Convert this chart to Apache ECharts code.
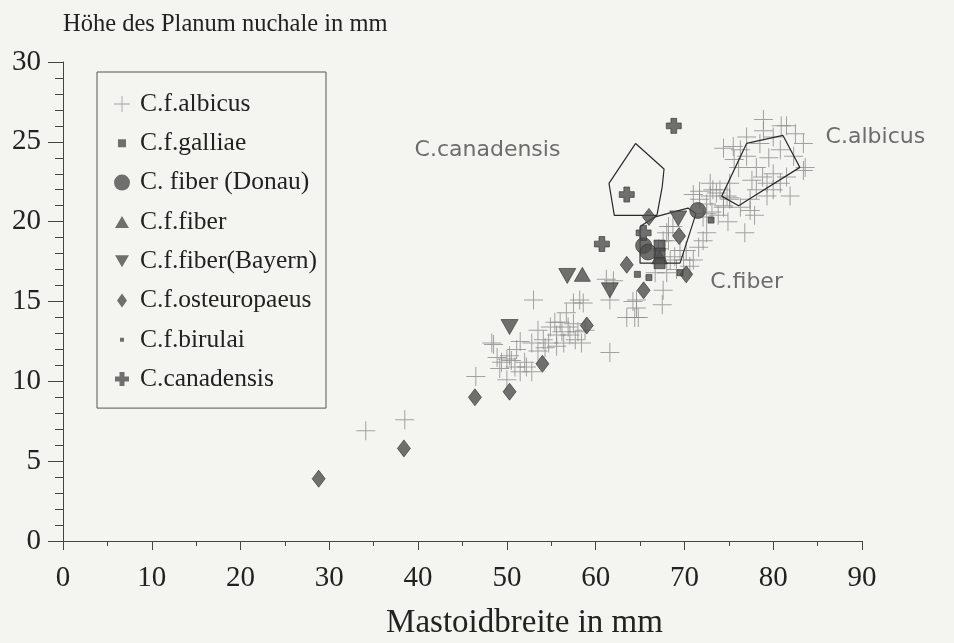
<!DOCTYPE html>
<html>
<head>
<meta charset="utf-8">
<script src="https://cdn.jsdelivr.net/npm/echarts@6/dist/echarts.min.js"></script>
<style>
  html, body { margin: 0; padding: 0; background: #f4f4f1; }
  #main { width: 954px; height: 643px; }
</style>
</head>
<body>
<div id="main"></div>
<script>
// Mastoidbreite (x) / Höhe des Planum nuchale (y), mm
var albicus = [
  [34.1, 6.9], [38.5, 7.6],
  [46.5, 10.3], [48.5, 12.3], [48.9, 11.5], [49.4, 11.2], [50.0, 10.1], [50.5, 11.3], [51.1, 12.0],
  [51.5, 10.6], [52.0, 11.2], [51.5, 12.5], [52.8, 12.4], [53.5, 13.2], [54.1, 12.6], [54.9, 13.4],
  [54.7, 12.4], [55.4, 13.7], [55.6, 12.9], [56.2, 13.1], [56.4, 12.4], [56.7, 14.3], [56.9, 13.4],
  [57.5, 14.9], [57.7, 12.6], [58.2, 15.1], [58.4, 12.4], [58.8, 13.2], [53.0, 15.1],
  [48.3, 12.4], [50.3, 11.6], [49.2, 10.8], [50.9, 10.9], [50.0, 11.4], [52.2, 10.9], [52.8, 10.6],
  [53.5, 11.9], [54.3, 12.1], [55.6, 12.2], [57.1, 12.9], [56.0, 13.7], [57.5, 13.6], [58.0, 13.1],
  [58.6, 14.9], [61.6, 11.8], [62.0, 16.3], [61.6, 15.1], [64.2, 15.0], [64.4, 14.0],
  [61.2, 16.4], [63.5, 14.0], [64.6, 15.1],
  [68.2, 19.7], [68.0, 19.3], [69.5, 18.2], [68.4, 17.6], [69.9, 17.6], [69.1, 17.0], [64.6, 14.6],
  [64.8, 14.0], [68.7, 19.7], [68.2, 18.8], [70.2, 18.2], [71.6, 18.4], [72.1, 18.8], [71.0, 17.6],
  [70.6, 17.2], [72.5, 19.3], [73.1, 20.6], [73.8, 20.4], [66.7, 16.8], [67.5, 14.8], [67.1, 18.3],
  [67.6, 18.8], [68.9, 17.8], [68.0, 16.8], [72.5, 20.5], [71.7, 21.4], [73.2, 22.0], [74.8, 21.6],
  [67.6, 15.7],
  [71.7, 21.9], [72.9, 22.4], [73.6, 21.8], [74.4, 21.0], [75.1, 21.5], [71.0, 21.7], [72.5, 21.1],
  [76.8, 19.3], [74.4, 24.6], [75.6, 23.9], [76.3, 24.5],
  [75.5, 24.7], [78.9, 25.7], [81.5, 26.0], [83.4, 24.9], [83.6, 23.4], [81.9, 21.6], [79.3, 22.4],
  [78.1, 23.4], [77.4, 21.4], [75.1, 22.4], [74.0, 22.0], [72.9, 21.6], [72.1, 20.3], [80.8, 24.5],
  [80.0, 25.3], [82.3, 24.1], [77.0, 24.1], [76.1, 23.4], [78.5, 24.9], [80.0, 23.0], [80.8, 22.4],
  [81.5, 22.8], [75.1, 21.4], [76.3, 20.9], [79.3, 21.6], [78.1, 22.0], [74.4, 20.9], [77.0, 25.3],
  [82.5, 25.5], [79.5, 24.0], [78.8, 22.8], [77.6, 22.6], [78.9, 26.4], [80.9, 26.0], [83.4, 23.2],
  [80.0, 22.0], [77.4, 20.7], [77.9, 20.4], [74.9, 20.0]
];
var galliae = [[67.2, 18.5], [67.2, 18.0], [67.2, 17.4]];
var donau = [[65.4, 18.5], [65.9, 18.1], [71.5, 20.7]];
var fiber = [[58.5, 16.7], [67.2, 17.8]];
var bayern = [[50.3, 13.4], [56.8, 16.6], [61.6, 15.7], [69.3, 20.2]];
var osteuropaeus = [
  [28.8, 3.9], [38.4, 5.8], [46.4, 9.0], [50.3, 9.35], [54.0, 11.1], [59.0, 13.5],
  [63.5, 17.3], [65.4, 15.7], [66.0, 20.3], [69.4, 19.1], [70.2, 16.7]
];
var birulai = [[64.7, 16.7], [66.0, 16.5], [73.0, 20.1], [69.5, 16.8]];
var canadensis = [[68.8, 26.0], [63.5, 21.7], [60.7, 18.6], [65.4, 19.3]];

// Umrisslinien der Gruppen
var polyCanadensis = [[64.5, 24.9], [67.7, 23.3], [67.5, 22.2], [66.9, 20.4], [62.1, 20.4], [61.5, 22.4], [64.5, 24.9]];
var polyFiber = [[65.0, 19.7], [66.7, 20.3], [70.4, 20.85], [71.3, 20.5], [69.5, 17.4], [65.0, 17.4], [65.0, 19.7]];
var polyAlbicus = [[77.0, 24.9], [81.1, 25.4], [83.0, 23.4], [76.1, 21.0], [74.2, 21.6], [77.0, 24.9]];

// Beschriftungen: [x, y, text]
var groupLabels = [[39.6, 24.5, 'C.canadensis'], [85.9, 25.3, 'C.albicus'], [72.9, 16.2, 'C.fiber']];

var serif = '"Liberation Serif", "DejaVu Serif", serif';
var dark = '#4e4e4e';

var crossPath = 'path://M9,0h1v19h-1zM0,9h19v1h-19z';
var plusPath = 'path://M4,0h5v4h4v5h-4v4h-5v-4h-4v-5h4z';
// Legendensymbole mit Rand, damit die Größe stimmt
function pad(inner) {
  return 'path://M0,0h.01v.01h-.01zM16,16h.01v.01h-.01z' + inner;
}

var chartDom = document.getElementById('main');
var myChart = echarts.init(chartDom);

function markers(name, data, symbol, size, extra) {
  var s = {
    name: name,
    type: 'scatter',
    data: data,
    symbol: symbol,
    symbolSize: size,
    itemStyle: { color: dark, borderColor: '#333', borderWidth: 0.8 },
    z: 4
  };
  for (var k in extra) s[k] = extra[k];
  return s;
}

function outline(data) {
  return {
    type: 'line',
    data: data,
    symbol: 'none',
    lineStyle: { color: '#2a2a2a', width: 1.2 },
    silent: true,
    z: 3
  };
}

var option = {
  backgroundColor: '#f4f4f1',
  animation: false,
  grid: { left: 63, right: 92, top: 62, bottom: 102, outerBoundsMode: 'none' },
  legend: {
    orient: 'vertical',
    left: 97,
    top: 72,
    padding: [19, 9, 16, 17],
    itemWidth: 16,
    itemHeight: 16,
    itemGap: 13.3,
    borderColor: '#555',
    borderWidth: 1,
    selectedMode: false,
    itemStyle: { borderWidth: 0 },
    textStyle: { fontFamily: serif, fontSize: 25.5, color: '#222', lineHeight: 26, padding: [0, 0, 0, 5] },
    data: [
      { name: 'C.f.albicus', icon: crossPath },
      { name: 'C.f.galliae', icon: pad('M4,4h8v8h-8z') },
      { name: 'C. fiber (Donau)', icon: 'circle' },
      { name: 'C.f.fiber', icon: pad('M8,2l7,12h-14z') },
      { name: 'C.f.fiber(Bayern)', icon: pad('M1,2h14l-7,12z') },
      { name: 'C.f.osteuropaeus', icon: pad('M8,1l5,7l-5,7l-5,-7z') },
      { name: 'C.f.birulai', icon: pad('M6,6h4v4h-4z') },
      { name: 'C.canadensis', icon: pad('M5.5,1h5v4.5h4.5v5h-4.5v4.5h-5v-4.5h-4.5v-5h4.5z') }
    ]
  },
  xAxis: {
    type: 'value',
    min: 0,
    max: 90,
    interval: 10,
    name: 'Mastoidbreite in mm',
    nameLocation: 'middle',
    nameGap: 66,
    nameTextStyle: { fontFamily: serif, fontSize: 33, color: '#222', padding: [0, 0, 0, 124] },
    axisLine: { lineStyle: { color: '#444', width: 1 } },
    axisTick: { length: 9, lineStyle: { color: '#444' } },
    minorTick: { show: true, splitNumber: 2, length: 5, lineStyle: { color: '#444' } },
    axisLabel: { fontFamily: serif, fontSize: 29, color: '#222', margin: 23 },
    splitLine: { show: false }
  },
  yAxis: {
    type: 'value',
    min: 0,
    max: 30,
    interval: 5,
    name: 'Höhe des Planum nuchale in mm',
    nameLocation: 'end',
    nameGap: 25,
    nameTextStyle: { fontFamily: serif, fontSize: 24.5, color: '#222', align: 'left' },
    axisLine: { lineStyle: { color: '#444', width: 1 } },
    axisTick: { length: 15, lineStyle: { color: '#444' } },
    minorTick: { show: true, splitNumber: 5, length: 8, lineStyle: { color: '#444' } },
    axisLabel: { fontFamily: serif, fontSize: 29, color: '#222', margin: 22 },
    splitLine: { show: false }
  },
  series: [
    {
      name: 'C.f.albicus',
      type: 'scatter',
      data: albicus,
      symbol: crossPath,
      symbolSize: 19,
      itemStyle: { color: '#8c8c8c' },
      z: 2
    },
    outline(polyCanadensis),
    outline(polyFiber),
    outline(polyAlbicus),
    markers('C.f.osteuropaeus', osteuropaeus, 'diamond', [13, 17]),
    markers('C.f.fiber(Bayern)', bayern, 'triangle', [17, 15], { symbolRotate: 180 }),
    markers('C.f.fiber', fiber, 'triangle', [16, 14]),
    markers('C.f.galliae', galliae, 'rect', 11),
    markers('C. fiber (Donau)', donau, 'circle', 16),
    markers('C.f.birulai', birulai, 'rect', 6),
    markers('C.canadensis', canadensis, plusPath, 15),
    {
      type: 'scatter',
      data: groupLabels,
      symbolSize: 0,
      silent: true,
      label: {
        show: true,
        position: 'right',
        distance: 0,
        formatter: function (p) { return p.data[2]; },
        fontFamily: '"DejaVu Sans", sans-serif',
        fontSize: 22,
        color: '#4a4a4a'
      }
    }
  ]
};

myChart.setOption(option);
</script>
</body>
</html>
